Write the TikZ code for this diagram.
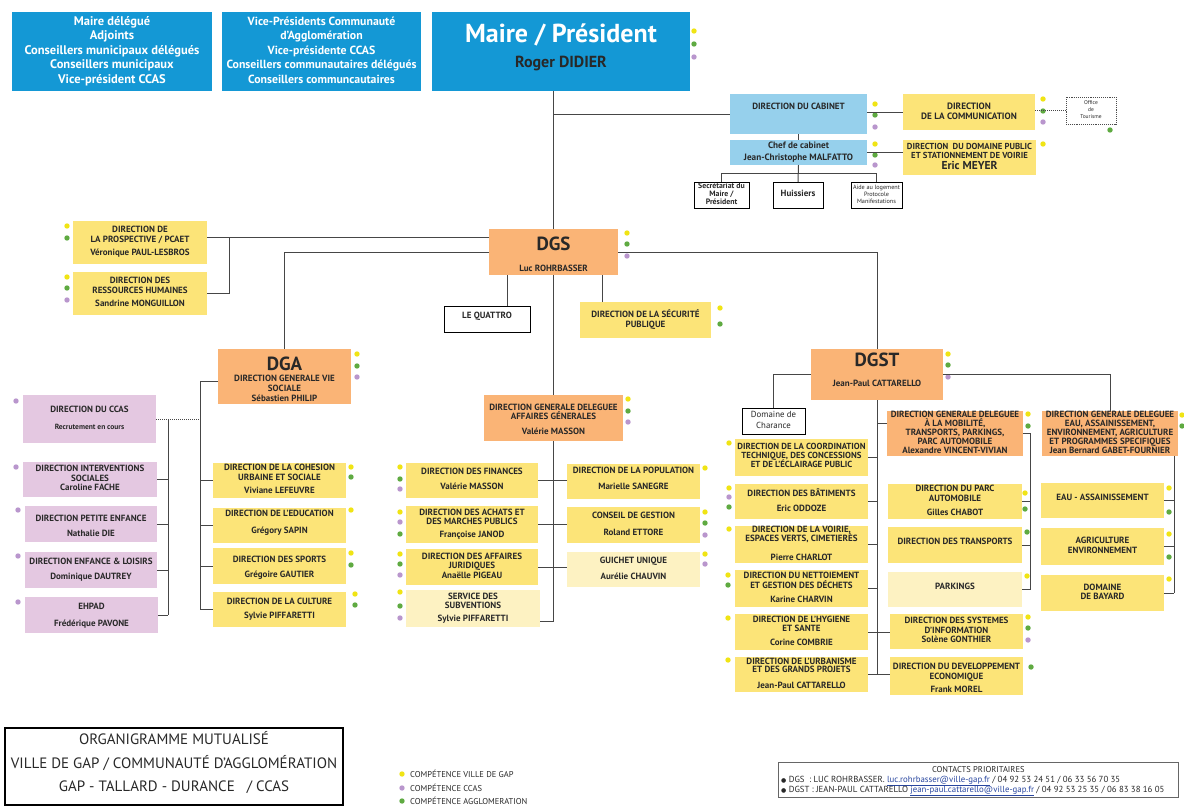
\documentclass[tikz,border=0pt]{standalone}
\usepackage{fontspec}
\setmainfont{PT Sans}
\newfontfamily\djv{DejaVu Sans}
\definecolor{cblue}{RGB}{20,152,213}
\definecolor{clblue}{RGB}{150,208,236}
\definecolor{cyel}{RGB}{252,228,120}
\definecolor{clyel}{RGB}{253,242,194}
\definecolor{corg}{RGB}{250,180,118}
\definecolor{cpink}{RGB}{228,200,225}
\definecolor{txt}{RGB}{40,40,40}
\definecolor{cline}{RGB}{70,70,70}
\definecolor{dyel}{RGB}{240,228,20}
\definecolor{dgrn}{RGB}{95,170,65}
\definecolor{dpur}{RGB}{185,150,205}
\definecolor{clink}{RGB}{40,70,160}
\newcommand\myfs[2]{\fontsize{#1}{#2}\selectfont}
\newcommand\tp[1]{\rule{0pt}{#1}}
\newcommand\bt[1]{\rule[-#1]{0pt}{#1}}
\newcommand\bx[7]{\node[#1,anchor=north west,minimum width={#5pt-#3pt},minimum height={#6pt-#4pt}] (#2) at (#3,#4) {\begin{tabular}{@{}c@{}}#7\end{tabular}};}
\newcommand\dotY[2]{\fill[dyel] (#1,#2) circle (2.7);}
\newcommand\dotG[2]{\fill[dgrn] (#1,#2) circle (2.7);}
\newcommand\dotP[2]{\fill[dpur] (#1,#2) circle (2.7);}
\tikzset{
  base/.style={inner sep=0pt, outer sep=0pt, text=txt, font=\bfseries\myfs{9}{9.5}},
  blu/.style={base, fill=cblue, text=white, font=\bfseries\myfs{12.5}{14.5}},
  lblu/.style={base, fill=clblue},
  ybox/.style={base, fill=cyel},
  lybox/.style={base, fill=clyel},
  obox/.style={base, fill=corg},
  pbox/.style={base, fill=cpink},
  wbox/.style={base, draw=black, line width=0.9pt, fill=white},
  conn/.style={draw=cline, line width=1pt},
  leg/.style={anchor=west, inner sep=0pt, text=txt, font=\myfs{8.5}{9}},
}
\begin{document}
\begin{tikzpicture}[x=1pt,y=-1pt]
\useasboundingbox (0,0) rectangle (1184,808);
\fill[white] (0,0) rectangle (1184,808);

% ---------- top ----------
\bx{blu}{elus}{12}{12}{212}{91}{Maire délégué\\Adjoints\\Conseillers municipaux délégués\\Conseillers municipaux\\Vice-président CCAS}
\bx{blu,font=\bfseries\myfs{11.8}{14.5}}{vp}{222}{12}{421}{91}{Vice-Présidents Communauté\\d'Agglomération\\Vice-présidente CCAS\\Conseillers communautaires délégués\\Conseillers communcautaires}
\bx{blu}{maire}{432}{12}{690}{91}{{\myfs{26}{28}Maire / Président}\\[10pt]{\color{txt}\myfs{16}{18}Roger DIDIER}\bt{11.5pt}}
\dotY{694}{31}\dotG{694}{44}\dotP{694}{57}

% ---------- cabinet ----------
\bx{lblu}{cab}{730}{94}{867}{134}{\raisebox{12pt}{DIRECTION DU CABINET}}
\dotY{875}{104}\dotG{875}{115}\dotP{875}{127}
\bx{ybox,font=\bfseries\myfs{9.2}{10}}{comm}{903}{94}{1035}{130}{DIRECTION\\DE LA COMMUNICATION}
\dotY{1043}{99}\dotG{1043}{111}\dotP{1043}{122}
\bx{wbox,draw=black!70,densely dotted,line width=0.6pt,font=\myfs{5.5}{7}}{office}{1066}{97}{1116}{124}{Office\\de\\Tourisme}
\dotG{1110}{130}
\bx{lblu,font=\bfseries\myfs{9.2}{10}}{chef}{730}{140}{867}{165}{Chef de cabinet\\[2pt]Jean-Christophe MALFATTO}
\dotY{875}{144}\dotG{875}{155}\dotP{875}{165}
\bx{ybox,font=\bfseries\myfs{8.7}{9.5}}{ddp}{903}{140}{1036}{175}{DIRECTION\ \ DU DOMAINE PUBLIC\\ET STATIONNEMENT DE VOIRIE\\{\myfs{11.5}{11}Eric MEYER}}
\dotY{1043}{144}
\bx{wbox,font=\bfseries\myfs{7.8}{7.8}}{secr}{694}{182}{749}{208}{Secrétariat du\\Maire /\\Président}
\bx{wbox}{huis}{773}{182}{823}{208}{Huissiers}
\bx{wbox,font=\myfs{6.2}{7}}{aide}{851}{182}{902}{208}{Aide au logement\\Protocole\\Manifestations}

% ---------- DGS ----------
\bx{obox}{dgs}{489}{229}{618}{275}{\tp{20.7pt}{\myfs{19}{20}DGS}\\[10.8pt]Luc ROHRBASSER}
\dotY{627}{233}\dotG{627}{244}\dotP{627}{256}
\bx{ybox}{pcaet}{73}{221}{207}{264}{DIRECTION DE\\LA PROSPECTIVE / PCAET\\[4pt]Véronique PAUL-LESBROS}
\dotY{67}{226}\dotG{67}{238}
\bx{ybox}{rh}{73}{272}{207}{315}{DIRECTION DES\\RESSOURCES HUMAINES\\[4pt]Sandrine MONGUILLON}
\dotY{67}{277}\dotG{67}{288}\dotP{67}{300}
\bx{wbox}{quattro}{444}{306}{530}{332}{\raisebox{5pt}{LE QUATTRO}}
\bx{ybox}{secu}{580}{302}{711}{338}{DIRECTION DE LA SÉCURITÉ\\PUBLIQUE}
\dotY{720}{308}\dotG{720}{324}

% ---------- DGA ----------
\bx{obox}{dga}{218}{349}{351}{401}{\tp{21.4pt}{\myfs{19}{16}DGA}\\[1.8pt]DIRECTION GENERALE VIE\\SOCIALE\\[0.5pt]Sébastien PHILIP}
\dotY{357}{354}\dotG{357}{366}\dotP{357}{377}
\bx{ybox}{coh}{213}{463}{346}{498}{DIRECTION DE LA COHESION\\URBAINE ET SOCIALE\\[4pt]Viviane LEFEUVRE}
\dotY{351}{467}\dotG{351}{477}
\bx{ybox}{edu}{213}{508}{346}{543}{DIRECTION DE L'EDUCATION\\[7.5pt]Grégory SAPIN\bt{8.3pt}}
\dotY{351}{510}
\bx{ybox}{sports}{213}{548}{346}{584}{\tp{10.2pt}DIRECTION DES SPORTS\\[5.5pt]Grégoire GAUTIER}
\dotY{351}{553}\dotG{351}{565}
\bx{ybox}{cult}{213}{592}{346}{627}{DIRECTION DE LA CULTURE\\[5pt]Sylvie PIFFARETTI}
\dotY{355}{594}\dotG{355}{605}
\bx{pbox}{ccas}{23}{395}{156}{443}{DIRECTION DU CCAS\\[7.5pt]{\myfs{7.5}{8}Recrutement en cours}}
\dotP{16}{401}
\bx{pbox}{interv}{23}{462}{157}{497}{DIRECTION INTERVENTIONS\\SOCIALES\\Caroline FACHE}
\dotP{16}{467}
\bx{pbox}{petite}{25}{506}{157}{542}{\tp{12.1pt}DIRECTION PETITE ENFANCE\\[5.5pt]Nathalie DIE}
\dotP{18}{510}
\bx{pbox}{enfance}{25}{552}{157}{588}{DIRECTION ENFANCE \& LOISIRS\\[5.5pt]Dominique DAUTREY}
\dotP{18}{556}
\bx{pbox}{ehpad}{25}{597}{158}{633}{\tp{9.6pt}EHPAD\\[7.5pt]Frédérique PAVONE}
\dotP{18}{602}

% ---------- DGDAG ----------
\bx{obox}{dgdag}{484}{395}{623}{441}{\tp{12.1pt}DIRECTION GENERALE DELEGUEE\\\smash{AFFAIRES GÉNERALES}\\[5.5pt]Valérie MASSON}
\dotY{628}{399}\dotG{628}{411}\dotP{628}{422}
\bx{ybox}{fin}{406}{463}{538}{498}{DIRECTION DES FINANCES\\[5.5pt]Valérie MASSON}
\dotY{400}{467}\dotG{400}{479}\dotP{400}{489}
\bx{ybox}{ach}{406}{506}{538}{543}{DIRECTION DES ACHATS ET\\DES MARCHES PUBLICS\\[3.5pt]Françoise JANOD}
\dotY{400}{512}\dotP{400}{522}\dotG{400}{534}
\bx{ybox}{jur}{406}{549}{538}{585}{DIRECTION DES AFFAIRES\\JURIDIQUES\\Anaëlle PIGEAU}
\dotY{400}{554}\dotG{400}{564}\dotP{400}{575}
\bx{lybox}{subv}{406}{590}{540}{627}{SERVICE DES\\SUBVENTIONS\\[3.5pt]Sylvie PIFFARETTI}
\dotY{400}{592}\dotG{400}{606}\dotP{400}{618}
\bx{ybox}{pop}{567}{464}{700}{499}{DIRECTION DE LA POPULATION\\[6.5pt]Marielle SANEGRE\bt{7.3pt}}
\dotY{705}{468}
\bx{ybox}{cg}{567}{507}{700}{543}{CONSEIL DE GESTION\\[7.5pt]Roland ETTORE}
\dotY{705}{512}\dotG{705}{523}\dotP{705}{535}
\bx{lybox}{gu}{567}{552}{700}{587}{GUICHET UNIQUE\\[6.5pt]Aurélie CHAUVIN}
\dotY{705}{554}\dotP{705}{564}

% ---------- DGST ----------
\bx{obox}{dgst}{811}{349}{943}{400}{{\myfs{19}{20}DGST}\\[9.8pt]Jean-Paul CATTARELLO\bt{9.8pt}}
\dotY{948}{354}\dotG{948}{365}\dotP{948}{377}
\bx{wbox,font=\myfs{8.8}{11}}{charance}{742}{408}{805}{434}{Domaine de\\Charance}
\bx{ybox,font=\bfseries\myfs{8.8}{9}}{coord}{735}{439}{868}{476}{DIRECTION DE LA COORDINATION\\TECHNIQUE, DES CONCESSIONS\\\smash{ET DE L'ÉCLAIRAGE PUBLIC}\bt{5.3pt}}
\dotY{729}{443}
\bx{ybox}{bat}{735}{484}{868}{519}{DIRECTION DES BÂTIMENTS\\[5.5pt]Eric ODDOZE}
\dotY{729}{488}\dotP{729}{497}\dotG{729}{507}
\bx{ybox,font=\bfseries\myfs{9}{9}}{voirie}{735}{526}{868}{563}{DIRECTION DE LA VOIRIE,\\\smash{ESPACES VERTS, CIMETIERÈS}\\[10pt]Pierre CHARLOT}
\dotY{729}{529}
\bx{ybox}{nett}{735}{570}{868}{607}{DIRECTION DU NETTOIEMENT\\\smash{ET GESTION DES DÉCHETS}\\[4.5pt]Karine CHARVIN}
\dotY{728}{575}\dotG{728}{585}
\bx{ybox}{hyg}{735}{614}{868}{650}{DIRECTION DE L'HYGIENE\\ET SANTE\\[4.5pt]Corine COMBRIE}
\dotY{728}{618}
\bx{ybox,font=\bfseries\myfs{9}{8}}{urb}{735}{657}{868}{692}{DIRECTION DE L'URBANISME\\\smash{ET DES GRANDS PROJETS}\\[8pt]Jean-Paul CATTARELLO}
\dotY{728}{660}
\bx{obox,font=\bfseries\myfs{9}{8.8}}{dgdm}{887}{411}{1023}{456}{DIRECTION GENERALE DELEGUEE\\\smash{À LA MOBILITÉ,}\\TRANSPORTS, PARKINGS,\\PARC AUTOMOBILE\\Alexandre VINCENT-VIVIAN}
\dotY{1028}{414}\dotG{1028}{426}
\bx{ybox}{parc}{888}{484}{1022}{519}{DIRECTION DU PARC\\AUTOMOBILE\\[4.5pt]Gilles CHABOT}
\dotY{1025}{493}\dotG{1025}{509}
\bx{ybox}{trans}{888}{527}{1022}{563}{\raisebox{5pt}{DIRECTION DES TRANSPORTS}}
\dotG{1027}{532}
\bx{lybox}{park}{888}{572}{1022}{607}{\raisebox{4pt}{PARKINGS}}
\dotY{1027}{576}
\bx{ybox}{si}{890}{614}{1023}{649}{DIRECTION DES SYSTEMES\\D'INFORMATION\\Solène GONTHIER}
\dotY{1028}{617}\dotG{1028}{628}\dotP{1028}{640}
\bx{ybox,font=\bfseries\myfs{9}{10}}{deveco}{890}{657}{1023}{693}{\tp{12.1pt}DIRECTION DU DEVELOPPEMENT\\ECONOMIQUE\\[3pt]Frank MOREL}
\dotG{1031}{667}
\bx{obox,font=\bfseries\myfs{9}{8.8}}{dgde}{1042}{411}{1178}{456}{DIRECTION GENERALE DELEGUEE\\EAU, ASSAINISSEMENT,\\ENVIRONNEMENT, AGRICULTURE\\ET PROGRAMMES SPECIFIQUES\\Jean Bernard GABET-FOURNIER}
\dotY{1182}{415}\dotG{1182}{426}
\bx{ybox}{eau}{1041}{483}{1164}{518}{\raisebox{4pt}{EAU - ASSAINISSEMENT}}
\dotY{1169}{488}\dotG{1169}{512}
\bx{ybox}{agri}{1041}{528}{1164}{565}{AGRICULTURE\\ENVIRONNEMENT}
\dotY{1169}{534}\dotG{1169}{557}
\bx{ybox}{bay}{1041}{575}{1164}{611}{DOMAINE\\DE BAYARD}
\dotY{1169}{579}

% ---------- connectors ----------
\draw[conn] (maire.south -| dgs.north) -- (dgs.north);
\draw[conn] (dgs.north |- cab.west) -- (cab.west);
\draw[conn] (cab.east |- comm.west) -- (comm.west);
\draw[conn,densely dotted] (comm.east |- office.west) -- (office.west);
\draw[conn] (cab.south) -- (chef.north);
\draw[conn] (chef.east) -- (chef.east -| ddp.west);
\draw[conn] (chef.south) -- (huis.north);
\coordinate (cj) at (0,173);
\draw[conn] (secr.north) |- (cj -| aide.north) -- (aide.north);

\coordinate (br1) at (229,237);
\draw[conn] (dgs.west |- br1) -- (br1 -| pcaet.east);
\draw[conn] (br1) |- (rh.east);
\draw[conn] (dgs.west) -| (dga.north);
\draw[conn] (dgs.east) -| (dgst.north);
\coordinate (q) at (507,0);
\draw[conn] (quattro.north -| q) -- (dgs.south -| q);
\coordinate (s) at (602,0);
\draw[conn] (secu.north -| s) -- (dgs.south -| s);
\draw[conn] (dgs.south) -- (dgdag.north);

\coordinate (ba) at (200,381);
\draw[conn] (dga.west |- ba) -- (ba) -- (ba |- cult.west);
\foreach \n in {coh,edu,sports,cult} \draw[conn] (ba |- \n.west) -- (\n.west);
\draw[conn,densely dotted] (ccas.east) -- (ccas.east -| ba);
\coordinate (bp) at (168,0);
\draw[conn] (ccas.east -| bp) -- (ehpad.east -| bp);
\foreach \n in {interv,petite,enfance,ehpad} \draw[conn] (\n.east) -- (\n.east -| bp);

\coordinate (ms) at (553.5,621);
\draw[conn] (dgdag.south) -- (ms) -- (ms -| subv.east);
\draw[conn] (fin.east) -- (fin.east -| pop.west);
\draw[conn] (ach.east) -- (ach.east -| cg.west);
\draw[conn] (jur.east) -- (jur.east -| gu.west);

\draw[conn] (dgst.west) -| (charance.north);
\draw[conn] (dgst.east) -| (dgde.north);
\draw[conn] (dgst.south) -- (dgst.south |- urb.east);
\foreach \n in {coord,bat,voirie,nett} \draw[conn] (\n.east) -- (\n.east -| dgst.south);
\draw[conn] (hyg.east) -- (hyg.east -| si.west);
\draw[conn] (urb.east) -- (urb.east -| deveco.west);
\coordinate (m1) at ([yshift=10pt]dgdm.west);
\draw[conn] (m1) -- (m1 -| dgst.south);
\coordinate (bm) at (1030,0);
\draw[conn] (dgdm.east) -- (dgdm.east -| bm) -- (park.east -| bm);
\foreach \n in {parc,trans,park} \draw[conn] (\n.east) -- (\n.east -| bm);
\coordinate (be) at (1174,0);
\draw[conn] (dgde.south -| be) -- (bay.east -| be);
\foreach \n in {eau,agri,bay} \draw[conn] (\n.east) -- (\n.east -| be);

% ---------- bottom ----------
\bx{wbox,line width=1.5pt,font=\myfs{15}{23.5}}{titre}{5}{728}{343}{805}{ORGANIGRAMME MUTUALISÉ\\VILLE DE GAP / COMMUNAUTÉ D'AGGLOMÉRATION\\GAP - TALLARD - DURANCE \ \ / CCAS\bt{13pt}}
\dotY{402}{774}\dotP{402}{788}\dotG{402}{801}
\node[leg] (l1) at (410,774) {COMPÉTENCE VILLE DE GAP};
\node[leg] (l2) at (410,788) {COMPÉTENCE CCAS};
\node[leg] (l3) at (410,801) {COMPÉTENCE AGGLOMERATION};

\node[draw=black!60, line width=0.6pt, inner sep=0pt, anchor=north west, minimum width=400pt, minimum height=35pt] (contacts) at (778,762) {};
\node[anchor=north, inner sep=0pt, text=txt, font=\myfs{8.5}{9}] (ct) at ([yshift=-4pt]contacts.north) {CONTACTS PRIORITAIRES};
\node[anchor=west, inner sep=0pt, text=txt, font=\myfs{8.8}{9}] (c1) at ([xshift=3pt,yshift=-1pt]contacts.west) {{\djv\myfs{6}{6}●} DGS\ \ : LUC ROHRBASSER. {\color{clink}\underline{luc.rohrbasser@ville-gap.fr}} / 04 92 53 24 51 / 06 33 56 70 35};
\node[anchor=west, inner sep=0pt, text=txt, font=\myfs{8.8}{9}] (c2) at ([xshift=3pt,yshift=-11pt]contacts.west) {{\djv\myfs{6}{6}●} DGST : JEAN-PAUL CATTARELLO {\color{clink}\underline{jean-paul.cattarello@ville-gap.fr}} / 04 92 53 25 35 / 06 83 38 16 05};
\end{tikzpicture}
\end{document}
